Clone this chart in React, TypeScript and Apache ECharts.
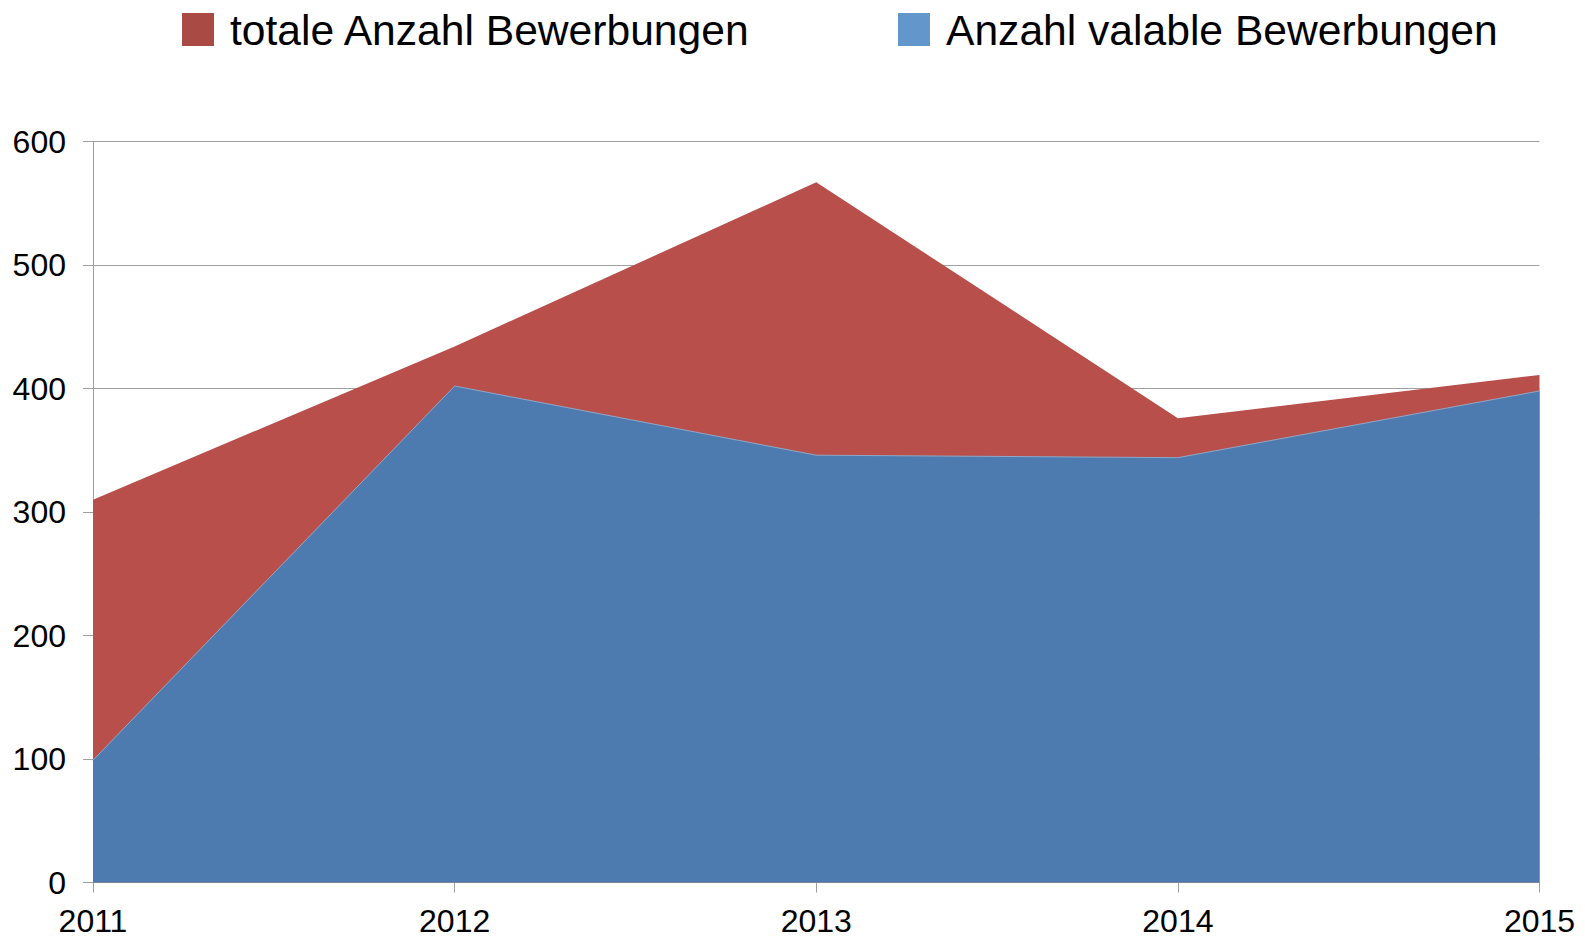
import React, { useEffect, useRef } from "react";
import * as echarts from "echarts";

const years = ["2011", "2012", "2013", "2014", "2015"];
const totalApplications = [310, 434, 567, 376, 411];
const validApplications = [99, 402, 346, 344, 398];
const yTicks = { min: 0, max: 600, interval: 100 };

const NAME_TOTAL = "totale Anzahl Bewerbungen";
const NAME_VALID = "Anzahl valable Bewerbungen";

export default function App() {
  const ref = useRef<HTMLDivElement>(null);
  useEffect(() => {
    document.body.style.margin = "0";
    if (!ref.current) return;
    const chart = echarts.init(ref.current, undefined, { renderer: "svg" });
    const font = "Liberation Sans, Arial, sans-serif";
    const legendCommon = {
      top: 3,
      itemWidth: 32,
      itemHeight: 33,
      icon: "rect",
      selectedMode: false,
      textStyle: { fontSize: 42.6, color: "#000", fontFamily: font, padding: [0, 0, 0, 11] },
    };
    chart.setOption({
      animation: false,
      legend: [
        { ...legendCommon, left: 177, data: [{ name: NAME_TOTAL, itemStyle: { color: "#A94A45" } }] },
        { ...legendCommon, left: 893, data: [{ name: NAME_VALID, itemStyle: { color: "#6397CB" } }] },
      ],
      grid: { left: 93, right: 45.5, top: 141.5, bottom: 56.5 },
      xAxis: {
        type: "category",
        data: years,
        boundaryGap: false,
        axisLine: { lineStyle: { color: "#A0A0A0", width: 1 } },
        axisTick: { show: true, length: 10, lineStyle: { color: "#A0A0A0" } },
        axisLabel: { fontSize: 32, color: "#000", fontFamily: font, margin: 22 },
        splitLine: { show: false },
      },
      yAxis: {
        type: "value",
        min: yTicks.min,
        max: yTicks.max,
        interval: yTicks.interval,
        axisLine: { show: true, lineStyle: { color: "#A0A0A0", width: 1 } },
        axisTick: { show: true, length: 10, lineStyle: { color: "#A0A0A0" } },
        axisLabel: { fontSize: 32, color: "#000", fontFamily: font, margin: 27 },
        splitLine: { show: true, lineStyle: { color: "#A0A0A0", width: 1 } },
      },
      series: [
        {
          name: NAME_TOTAL,
          type: "line",
          data: totalApplications,
          symbol: "none",
          lineStyle: { width: 0 },
          itemStyle: { color: "#B84F4B" },
          areaStyle: { color: "#B84F4B", opacity: 1 },
        },
        {
          name: NAME_VALID,
          type: "line",
          data: validApplications,
          symbol: "none",
          lineStyle: { width: 1, color: "#8FA8C8" },
          itemStyle: { color: "#4D7BB0" },
          areaStyle: { color: "#4D7BB0", opacity: 1 },
        },
      ],
    });
    return () => chart.dispose();
  }, []);
  return <div ref={ref} style={{ width: 1585, height: 939 }} />;
}
